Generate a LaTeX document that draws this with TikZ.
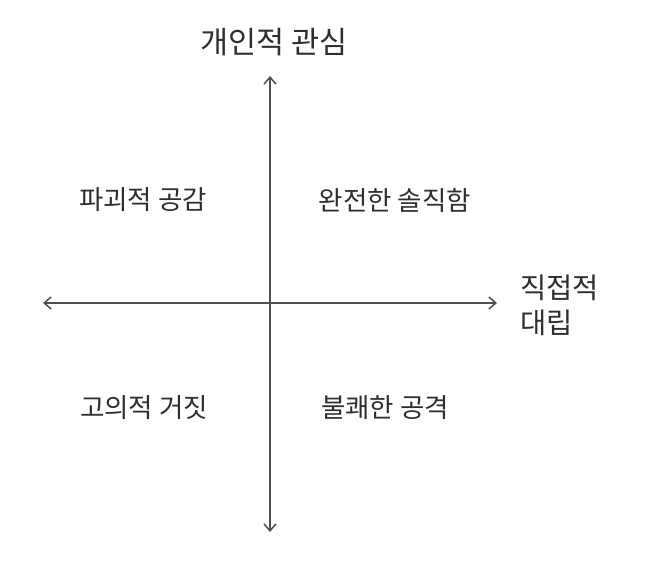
\documentclass[tikz,border=0pt]{standalone}
\usepackage{fontspec}
\setmainfont{Noto Sans CJK KR}
\usetikzlibrary{arrows.meta}
\definecolor{axisgray}{HTML}{505050}
\definecolor{textgray}{HTML}{2E2E2E}
\tikzset{
  axisline/.style={draw=axisgray, line width=1.5pt, {Straight Barb[length=7pt,width=12pt,line width=1.5pt]}-{Straight Barb[length=7pt,width=12pt,line width=1.5pt]}},
  quad/.style={text=textgray, font=\fontsize{26.5}{30}\selectfont, inner sep=0pt},
  axlabel/.style={text=textgray, font=\fontsize{30.5}{35}\selectfont, inner sep=0pt},
  sidelabel/.style={text=textgray, font=\fontsize{28.5}{35}\selectfont, inner sep=0pt}
}
\begin{document}
\begin{tikzpicture}[x=1pt,y=-1pt]
\useasboundingbox (0,0) rectangle (650,570);
\coordinate (top) at (270,76);
\coordinate (bottom) at (270,532);
\coordinate (left) at (43,303);
\coordinate (right) at (497,303);
\draw[axisline] (top) -- (bottom);
\draw[axisline] (left) -- (right);
\node[axlabel] (ylab) at (274,42) {개인적 관심};
\node[sidelabel, align=left, anchor=west] (xlab) at (520,305) {직접적\\대립};
\node[quad] (q1) at (143,200) {파괴적 공감};
\node[quad] (q2) at (395,200) {완전한 솔직함};
\node[quad] (q3) at (144,408) {고의적 거짓};
\node[quad] (q4) at (385,408) {불쾌한 공격};
\end{tikzpicture}
\end{document}
